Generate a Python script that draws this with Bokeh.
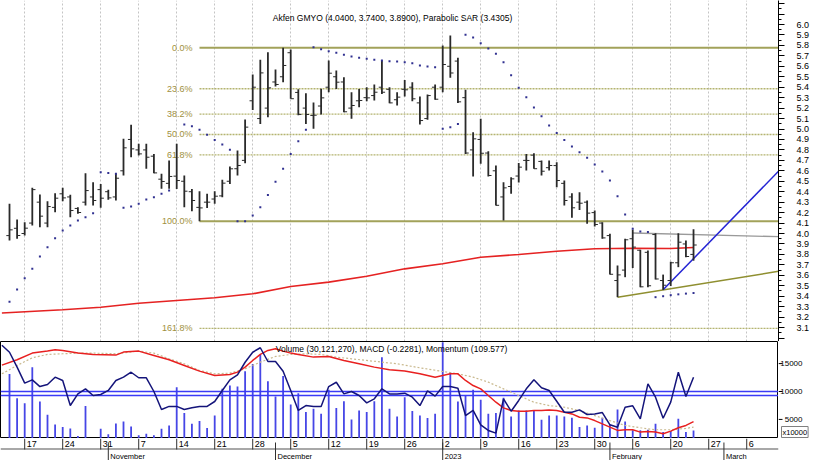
import math
from bokeh.plotting import figure
from bokeh.models import (ColumnDataSource, Range1d, LinearAxis, FixedTicker, Label,
                          Grid, PrintfTickFormatter)
from bokeh.layouts import column, row
from bokeh.embed import file_html
from bokeh.resources import INLINE
from bokeh.core.properties import value

FONT = "Liberation Sans"
NaN = float("nan")

# ---------------- data (bar index 0 = 13 Oct 2022, trading days) ----------------
open_ = [3.98, 4.05, 4.00, 4.10, 4.30, 4.10, 4.25, 4.38, 4.35, 4.24,
         4.30, 4.35, 4.42, 4.40, 4.35, 4.60, 4.90, 4.80, 4.80, 4.74,
         4.52, 4.48, 4.549, 4.50, 4.40, 4.25, 4.30, 4.33, 4.36, 4.50,
         4.62, 4.70, 5.27, 5.10, 5.20, 5.45, 5.50, 5.73, 5.35, 5.20,
         5.13, 5.22, 5.40, 5.50, 5.45, 5.20, 5.27, 5.30, 5.32, 5.40,
         5.38, 5.28, 5.38, 5.40, 5.25, 5.10, 5.40, 5.40, 5.60, 5.65,
         5.30, 4.80, 4.90, 4.77, 4.60, 4.35, 4.45, 4.55, 4.70, 4.75,
         4.69, 4.63, 4.65, 4.48, 4.35, 4.30, 4.30, 4.20, 4.10, 3.98,
         3.55, 3.65, 3.95, 3.84, 3.82, 3.99, 3.55, 3.55, 3.72, 3.90,
         3.80]
high = [4.284, 4.134, 4.108, 4.437, 4.373, 4.309, 4.386, 4.437, 4.370, 4.252,
        4.577, 4.491, 4.475, 4.418, 4.571, 4.906, 5.040, 4.858, 4.858, 4.762,
        4.571, 4.699, 4.858, 4.555, 4.427, 4.405, 4.380, 4.405, 4.514, 4.641,
        4.794, 5.091, 5.522, 5.662, 5.735, 5.569, 5.777, 5.761, 5.381, 5.343,
        5.253, 5.385, 5.656, 5.560, 5.496, 5.352, 5.384, 5.400, 5.426, 5.656,
        5.400, 5.352, 5.470, 5.448, 5.311, 5.330, 5.426, 5.799, 5.895, 5.682,
        5.375, 4.969, 5.097, 4.788, 4.651, 4.491, 4.539, 4.675, 4.762, 4.769,
        4.699, 4.699, 4.683, 4.507, 4.386, 4.396, 4.316, 4.220, 4.108, 3.997,
        3.694, 3.949, 4.035, 3.845, 3.837, 4.003, 3.607, 3.730, 4.003, 3.933,
        4.040]
low = [3.933, 3.949, 3.981, 4.077, 4.061, 4.061, 4.204, 4.309, 4.156, 4.188,
       4.268, 4.268, 4.246, 4.322, 4.316, 4.555, 4.730, 4.746, 4.619, 4.577,
       4.428, 4.428, 4.427, 4.252, 4.214, 4.118, 4.245, 4.284, 4.348, 4.475,
       4.555, 4.673, 5.183, 5.049, 5.113, 5.407, 5.448, 5.289, 5.132, 5.049,
       5.002, 5.138, 5.352, 5.384, 5.161, 5.097, 5.209, 5.266, 5.273, 5.336,
       5.247, 5.225, 5.311, 5.266, 5.043, 5.088, 5.279, 5.352, 5.490, 5.250,
       4.762, 4.545, 4.667, 4.545, 4.268, 4.124, 4.380, 4.487, 4.603, 4.619,
       4.555, 4.603, 4.443, 4.268, 4.150, 4.226, 4.093, 4.067, 3.949, 3.608,
       3.391, 3.582, 3.670, 3.486, 3.486, 3.560, 3.461, 3.497, 3.678, 3.773,
       3.740]
close = [4.035, 3.981, 4.051, 4.42, 4.166, 4.258, 4.338, 4.341, 4.220, 4.201,
         4.411, 4.316, 4.338, 4.341, 4.529, 4.820, 4.810, 4.762, 4.730, 4.580,
         4.498, 4.546, 4.507, 4.405, 4.316, 4.245, 4.300, 4.357, 4.482, 4.619,
         4.651, 5.018, 5.40, 5.537, 5.394, 5.426, 5.608, 5.290, 5.140, 5.139,
         5.132, 5.298, 5.534, 5.448, 5.165, 5.225, 5.273, 5.298, 5.352, 5.352,
         5.250, 5.305, 5.375, 5.289, 5.081, 5.320, 5.285, 5.617, 5.536, 5.260,
         4.770, 4.906, 4.768, 4.555, 4.270, 4.437, 4.523, 4.635, 4.699, 4.620,
         4.596, 4.651, 4.507, 4.316, 4.246, 4.290, 4.195, 4.086, 3.958, 3.610,
         3.604, 3.940, 3.870, 3.490, 3.500, 3.565, 3.505, 3.720, 3.917, 3.780,
         3.890]
sar = [3.346, 3.464, 3.572, 3.662, 3.780, 3.869, 3.955, 4.029, 4.077, 4.124,
       4.156, 4.195, 4.587, 4.580, 4.572, 4.246, 4.258, 4.284, 4.325, 4.348,
       4.380, 4.412, NaN, 5.043, 5.027, 4.992, 4.944, 4.896, 4.852, 4.801,
       4.118, 4.118, 4.172, 4.252, 4.368, 4.495, 4.619, 4.762, 4.884, 4.992,
       5.783, 5.764, 5.745, 5.729, 5.710, 5.694, 5.681, 5.672, 5.662, 5.656,
       5.649, 5.646, 5.640, 5.630, 5.608, 5.598, 5.592, 5.002, 5.018, 5.049,
       5.902, 5.875, 5.821, 5.770, 5.719, 5.640, 5.515, 5.394, 5.305, 5.206,
       5.122, 5.033, 4.963, 4.896, 4.833, 4.778, 4.724, 4.660, 4.593, 4.507,
       4.357, 4.182, 4.045, 4.019, 4.015, 3.391, 3.400, 3.410, 3.418, 3.425,
       3.4305]
volume = [13155, 8810, 7917, 14345, 8214, 5833, 4107, 3631, 3393, 2024,
          7381, 900, 3333, 2321, 4286, 4643, 3750, 2143, 2440, 2143,
          3333, 3929, 10774, 6131, 4226, 4702, 3452, 5714, 10476, 11071,
          10893, 13631, 14940, 16607, 11845, 9107, 12800, 7679, 9702, 6310,
          6905, 6000, 10298, 7024, 8274, 5000, 6607, 6310, 8274, 16131,
          6905, 5536, 8988, 6488, 5714, 5238, 6012, 18810, 13452, 8214,
          9286, 10298, 8512, 6012, 6131, 8869, 5536, 6607, 6607, 6488,
          4940, 5714, 5714, 5536, 5298, 3631, 3929, 3512, 5298, 4107,
          6786, 4643, 3036, 3036, 3155, 4226, 2738, 2917, 5119, 2738,
          3012.127]

ma200_idx = [-1, 7, 12, 17, 22, 27, 32, 37, 42, 47, 52, 57, 62, 67, 72, 77, 82, 87, 90]
ma200 = [3.240, 3.270, 3.295, 3.333, 3.359, 3.385, 3.423, 3.493, 3.535, 3.591,
         3.662, 3.710, 3.773, 3.799, 3.831, 3.854, 3.859, 3.856, 3.866]

macd_idx = [-1, 1, 3, 5, 6, 7, 9, 11, 14, 15, 17, 19, 21, 23, 25, 27, 29, 30, 31, 32,
            33, 34, 35, 36, 37, 38, 40, 42, 44, 46, 48, 50, 52, 54, 56, 57, 58, 59, 60, 61,
            62, 63, 64, 65, 66, 67, 68, 69, 70, 71, 72, 73, 74, 75, 76, 77, 78, 79, 80, 81,
            82, 83, 84, 85, 86, 87, 88, 89, 90]
macd = [0.110, 0.142, 0.182, 0.194, 0.202, 0.198, 0.182, 0.174, 0.170, 0.188,
        0.194, 0.168, 0.142, 0.108, 0.074, 0.048, 0.054, 0.068, 0.098, 0.138,
        0.174, 0.198, 0.208, 0.194, 0.182, 0.174, 0.158, 0.162, 0.138, 0.118,
        0.098, 0.082, 0.075, 0.058, 0.038, 0.048, 0.058, 0.058, 0.018, -0.012,
        -0.032, -0.072, -0.112, -0.146, -0.162, -0.166, -0.166, -0.162, -0.162, -0.158,
        -0.162, -0.172, -0.182, -0.202, -0.206, -0.222, -0.242, -0.261, -0.281, -0.277,
        -0.277, -0.291, -0.287, -0.291, -0.301, -0.285, -0.265, -0.251, -0.2281]
signal_idx = [-1, 1, 3, 5, 7, 9, 11, 14, 17, 19, 21, 23, 25, 27, 29, 31, 33, 35, 37, 39,
              41, 43, 45, 47, 49, 51, 54, 57, 59, 61, 63, 65, 67, 69, 71, 73, 75, 77, 79, 81,
              83, 85, 87, 89, 90]
signal = [0.058, 0.108, 0.154, 0.174, 0.178, 0.182, 0.182, 0.178, 0.194, 0.182,
          0.148, 0.118, 0.078, 0.058, 0.062, 0.088, 0.128, 0.162, 0.174, 0.178,
          0.174, 0.158, 0.148, 0.138, 0.128, 0.118, 0.094, 0.072, 0.058, 0.038,
          0.008, -0.032, -0.072, -0.112, -0.132, -0.142, -0.162, -0.192, -0.222, -0.251,
          -0.265, -0.277, -0.277, -0.269, -0.261]
momentum_idx = list(range(-1, 91))
momentum = [131.0,
            126.3, 116.3, 105.6, 107.8, 103.3, 104.7, 109.6, 107.4, 90.6, 98.4,
            101.8, 97.3, 98.0, 100.7, 107.4, 109.6, 112.9, 109.2, 109.2, 100.0,
            87.9, 90.0, 90.0, 87.9, 89.1, 90.0, 90.0, 93.3, 100.7, 107.8,
            111.2, 119.6, 126.3, 129.3, 120.1, 120.1, 113.6, 100.7, 87.3, 90.6,
            90.0, 90.0, 103.3, 106.2, 98.4, 100.0, 97.3, 92.4, 95.1, 101.8,
            98.4, 98.4, 98.9, 96.2, 90.6, 100.4, 96.9, 103.3, 103.3, 102.2,
            83.9, 87.3, 77.7, 73.9, 72.1, 95.1, 86.8, 94.0, 101.8, 107.8,
            102.5, 100.7, 93.5, 86.1, 86.1, 87.7, 84.6, 85.0, 85.9, 77.7,
            76.1, 89.5, 90.4, 81.7, 105.1, 96.2, 82.1, 92.9, 112.9, 96.7,
            109.577]
momentum_levels = [100.0, 97.3]

fib_ratios = [0.0, 0.236, 0.382, 0.5, 0.618, 1.0, 1.618]
fib_labels = ["0.0%", "23.6%", "38.2%", "50.0%", "61.8%", "100.0%", "161.8%"]
fib_solid = [True, False, False, False, False, True, False]
fib_high = 5.777
fib_low = 4.118
fib_start_idx = 25

# trend lines: two anchor points each (bar index, price), extended to the right edge
trend_resist = ([82, 88], [4.005, 3.994])
trend_support = ([80, 86], [3.391, 3.461])
trend_up = ([86, 90], [3.461, 3.760])

week_idx = [2, 7, 12, 17, 22, 27, 32, 37, 42, 47, 52, 57, 62, 67, 72, 77, 82, 87, 92, 97]
week_labels = ["17", "24", "31", "7", "14", "21", "28", "5", "12", "19", "26", "2",
               "9", "16", "23", "30", "6", "20", "27", "6"]
month_idx = [13, 35, 57, 79, 94]
month_labels = ["November", "December", "2023", "February", "March"]

price_ticks = [3.0, 3.1, 3.2, 3.3, 3.4, 3.5, 3.6, 3.7, 3.8, 3.9, 4.0, 4.1, 4.2, 4.3, 4.4,
               4.5, 4.6, 4.7, 4.8, 4.9, 5.0, 5.1, 5.2, 5.3, 5.4, 5.5, 5.6, 5.7, 5.8, 5.9,
               6.0, 6.1, 6.2]
price_unlabeled = [3.0, 6.1, 6.2]
volume_ticks = [5000, 10000, 15000]
volume_tick_labels = ["5000", "10000", "15000"]
volume_unit = "x10000"

title_top = "Akfen GMYO (4.0400, 3.7400, 3.8900), Parabolic SAR (3.4305)"
title_low = "Volume (30,121,270), MACD (-0.2281), Momentum (109.577)"

# ---------------- layout ----------------
X0, X1 = -1.184, 101.18
xr = Range1d(X0, X1)
base = dict(output_backend="svg", toolbar_location=None, x_axis_type=None, y_axis_type=None,
            min_border_left=0, min_border_top=0, min_border_bottom=0,
            background_fill_color="white", border_fill_color="white")

# ---------- top panel ----------
pA = figure(width=820, height=341, x_range=xr, y_range=Range1d(2.9667, 6.2297),
            min_border_right=42, **base)
pA.outline_line_color = None
pA.add_layout(Grid(dimension=0, ticker=FixedTicker(ticks=week_idx),
                   grid_line_color="#c4c4c4", grid_line_dash="2 2", grid_line_width=1))

minor = [round(t + 0.05, 2) for t in price_ticks] + [round(price_ticks[0] - 0.05, 2)]
axA = LinearAxis(ticker=FixedTicker(ticks=price_ticks, minor_ticks=minor),
                 formatter=PrintfTickFormatter(format="%.1f"),
                 major_label_overrides={t: "" for t in price_unlabeled},
                 axis_line_color="black", major_tick_line_color="black",
                 minor_tick_line_color="black", major_tick_in=0, major_tick_out=6,
                 minor_tick_in=0, minor_tick_out=3, major_label_standoff=12,
                 major_label_text_font=FONT, major_label_text_font_size="9px",
                 major_label_text_color="black")
pA.add_layout(axA, "right")

# Fibonacci levels
fib_prices = [fib_high - r * (fib_high - fib_low) for r in fib_ratios]
solid = ColumnDataSource(dict(y=[p for p, s in zip(fib_prices, fib_solid) if s]))
dotted = ColumnDataSource(dict(y=[p for p, s in zip(fib_prices, fib_solid) if not s]))
pA.segment(x0=fib_start_idx, x1=X1, y0="y", y1="y", source=solid,
           line_color="#a2a25a", line_width=2)
pA.segment(x0=fib_start_idx, x1=X1, y0="y", y1="y", source=dotted,
           line_color="#b4b470", line_width=1.3, line_dash="2 1")
pA.text(x=[fib_start_idx] * len(fib_prices), y=fib_prices, text=fib_labels,
        x_offset=-7, text_align="right", text_baseline="middle",
        text_font=value(FONT), text_font_size="9px", text_color="#a0903e")

# 200-day moving average
pA.line(ma200_idx, ma200, line_color="#e52222", line_width=1.6)

# trend lines
def extend(tl):
    (xa, xb), (ya, yb) = tl
    s = (yb - ya) / (xb - xa)
    return [xa, X1], [ya, ya + s * (X1 - xa)]

for tl, col, w in [(trend_resist, "#9a9a9a", 1.3), (trend_support, "#8f8f30", 1.5),
                   (trend_up, "#2424d4", 1.5)]:
    xs, ys = extend(tl)
    pA.line(xs, ys, line_color=col, line_width=w)

# OHLC bars
idx = list(range(len(close)))
src = ColumnDataSource(dict(x=idx, o=open_, h=high, l=low, c=close,
                            xl=[i - 0.42 for i in idx], xr=[i + 0.42 for i in idx]))
pA.segment(x0="x", x1="x", y0="l", y1="h", source=src, line_color="#2a2a2a", line_width=1.8)
pA.segment(x0="xl", x1="x", y0="o", y1="o", source=src, line_color="#2a2a2a", line_width=1)
pA.segment(x0="x", x1="xr", y0="c", y1="c", source=src, line_color="#2a2a2a", line_width=1)

# Parabolic SAR
pA.scatter(idx, sar, marker="square", size=2, line_width=0, fill_color="#303090",
           line_color="#303090")

pA.add_layout(Label(x=392, y=324, x_units="screen", y_units="screen", text=title_top,
                    text_align="center", text_baseline="middle", text_font=FONT,
                    text_font_size="8.5px", text_color="black"))

# ---------- lower panel ----------
vol_range = Range1d(1579, 18961)
pB = figure(width=778, height=97, x_range=xr, y_range=vol_range, min_border_right=0, **base)
pB.outline_line_color = "black"
pB.outline_line_width = 1
pB.extra_y_ranges = {"macd": Range1d(-0.3293, 0.2515), "mom": Range1d(68.52, 133.49)}

pB.segment(x0=idx, x1=idx, y0=0, y1=volume, line_color="#4646e6", line_width=1.8)
pB.segment(x0=X0, x1=X1, y0=momentum_levels, y1=momentum_levels, y_range_name="mom",
           line_color="#3a3af5", line_width=1.5)
pB.line(signal_idx, signal, y_range_name="macd", line_color="#c9b98e", line_width=1.2,
        line_dash="2 2")
pB.line(macd_idx, macd, y_range_name="macd", line_color="#e82020", line_width=1.5)
pB.line(momentum_idx, momentum, y_range_name="mom", line_color="#14147a", line_width=1.5)

pB.add_layout(Label(x=391, y=89.5, x_units="screen", y_units="screen", text=title_low,
                    text_align="center", text_baseline="middle", text_font=FONT,
                    text_font_size="8.5px", text_color="black"))

# right-hand volume scale (drawn in a narrow strip sharing the volume range)
pBs = figure(width=42, height=97, x_range=Range1d(0, 42), y_range=vol_range,
             min_border_right=0, **base)
pBs.outline_line_color = None
pBs.segment(x0=0, x1=4, y0=volume_ticks, y1=volume_ticks, line_color="black", line_width=1)
pBs.text(x=[24] * len(volume_ticks), y=volume_ticks, text=volume_tick_labels,
         text_align="right", text_baseline="middle", text_font=value(FONT),
         text_font_size="8px", text_color="black")
pBs.add_layout(Label(x=3, y=1, x_units="screen", y_units="screen", text=volume_unit,
                     text_align="left", text_baseline="bottom", text_font=FONT,
                     text_font_size="7.5px", text_color="black", padding=1,
                     border_line_color="#808080", background_fill_color="white"))

# ---------- date axis ----------
pC = figure(width=820, height=22, x_range=xr, y_range=Range1d(0, 22), min_border_right=42,
            **base)
pC.outline_line_color = None
pC.segment(x0=X0, x1=X1, y0=11.5, y1=11.5, line_color="#a8a8a8", line_width=2)
pC.segment(x0=week_idx, x1=week_idx, y0=22, y1=11, line_color="#303030", line_width=1)
pC.text(x=week_idx, y=[16.8] * len(week_idx), text=week_labels, x_offset=2,
        text_align="left", text_baseline="middle", text_font=value(FONT),
        text_font_size="9px", text_color="black")
pC.segment(x0=month_idx, x1=month_idx, y0=18, y1=0, line_color="#303030", line_width=1)
pC.text(x=month_idx, y=[4.0] * len(month_idx), text=month_labels, x_offset=2,
        text_align="left", text_baseline="alphabetic", text_font=value(FONT),
        text_font_size="7.5px", text_color="black")

layout = column(pA, row(pB, pBs, spacing=0), pC, spacing=0)
open("out.html", "w").write(file_html(layout, INLINE))
